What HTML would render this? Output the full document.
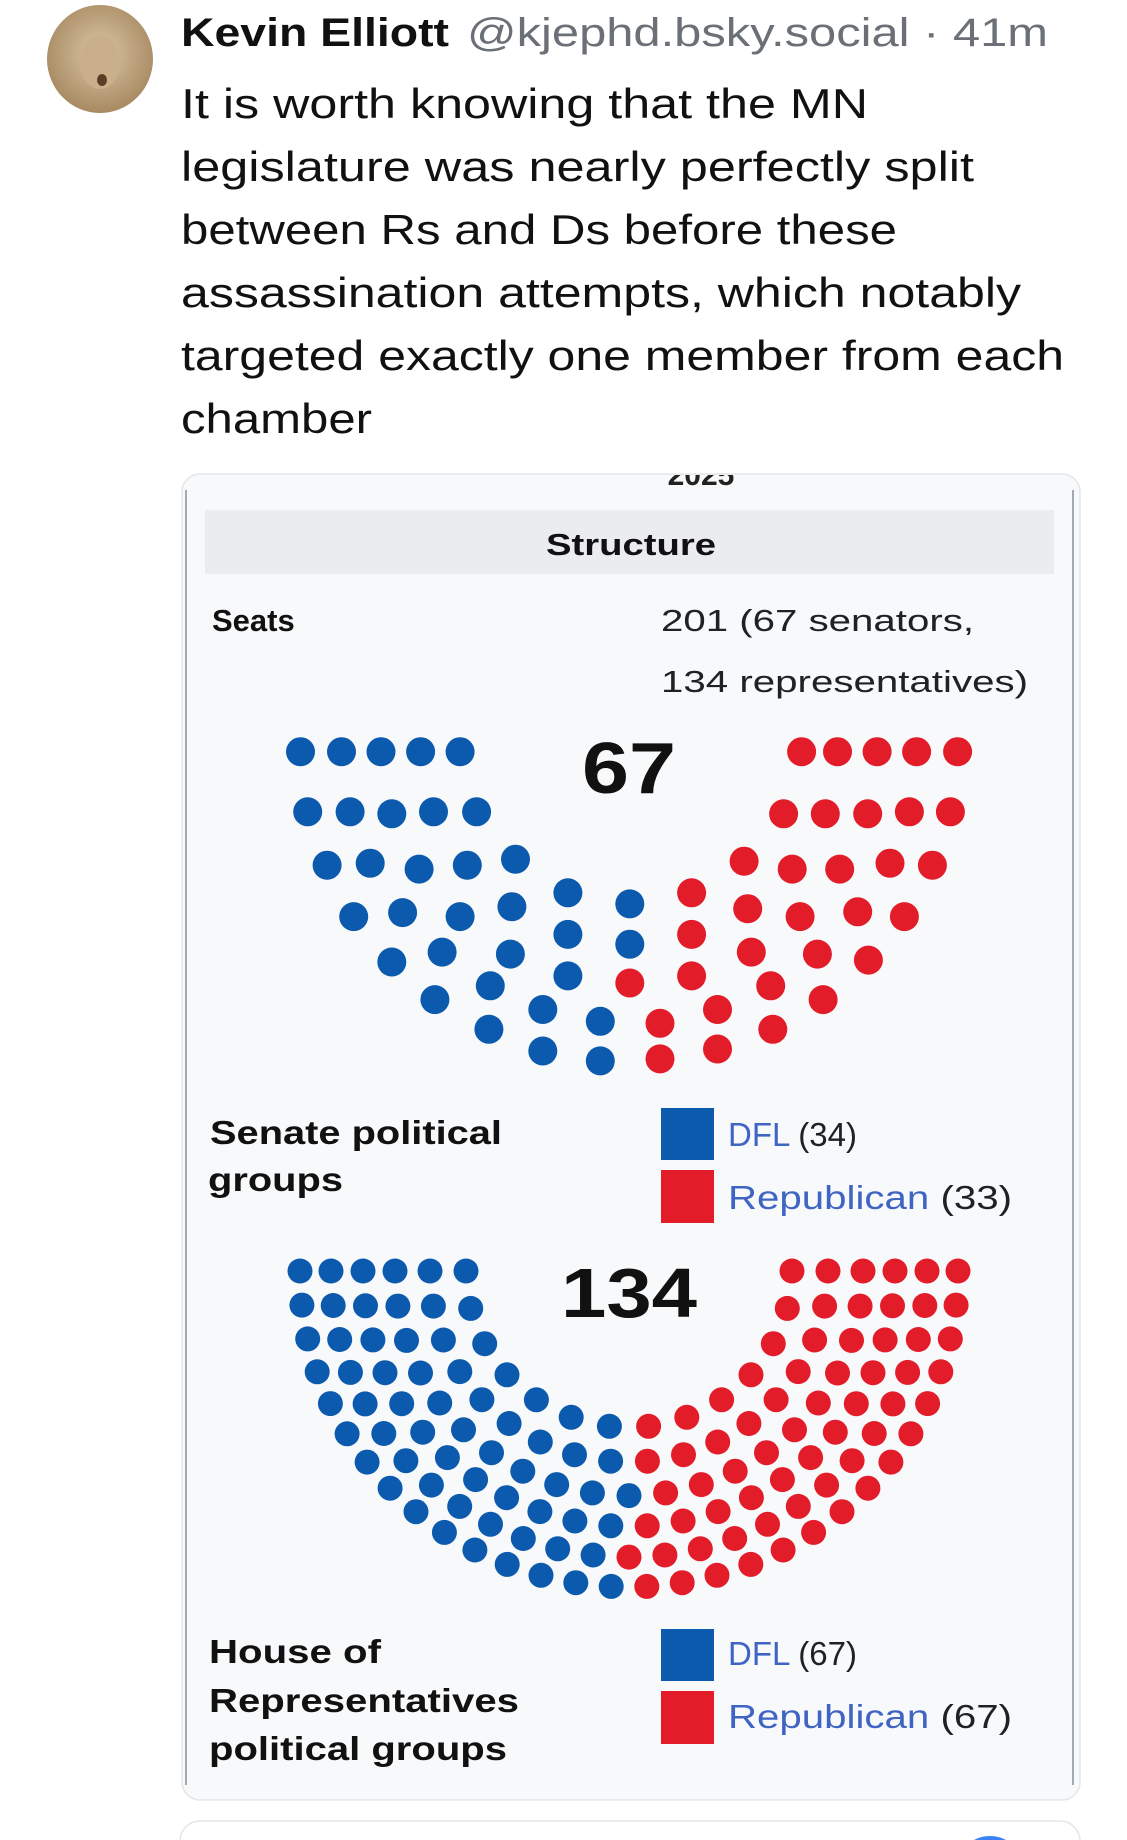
<!DOCTYPE html>
<html><head><meta charset="utf-8"><style>
html,body{margin:0;padding:0;background:#fff;width:1127px;height:1840px;overflow:hidden}
svg{display:block}
text{font-family:"Liberation Sans",sans-serif}
</style></head><body>
<svg id="s" width="1127" height="1840" viewBox="0 0 1127 1840" xmlns="http://www.w3.org/2000/svg">
<defs><radialGradient id="av" cx="50%" cy="45%" r="55%"><stop offset="0" stop-color="#d9c7a6"/><stop offset="1" stop-color="#a88a62"/></radialGradient>
<clipPath id="cc"><rect x="182" y="475" width="898" height="1326" rx="18"/></clipPath></defs>
<ellipse cx="100" cy="59" rx="53" ry="54" fill="url(#av)"/>
<ellipse cx="100" cy="62" rx="20" ry="27" fill="#c9b08a"/>
<ellipse cx="102" cy="80" rx="5" ry="6" fill="#5a3f25"/>
<text x="181" y="46" font-size="40" font-weight="bold" fill="#111" textLength="268" lengthAdjust="spacingAndGlyphs">Kevin Elliott</text>
<text x="467" y="46" font-size="40" fill="#6b7077" textLength="581" lengthAdjust="spacingAndGlyphs">@kjephd.bsky.social · 41m</text>
<g font-size="42" fill="#111">
<text x="181" y="118" textLength="687" lengthAdjust="spacingAndGlyphs">It is worth knowing that the MN</text>
<text x="181" y="181" textLength="793" lengthAdjust="spacingAndGlyphs">legislature was nearly perfectly split</text>
<text x="181" y="244" textLength="716" lengthAdjust="spacingAndGlyphs">between Rs and Ds before these</text>
<text x="181" y="307" textLength="840" lengthAdjust="spacingAndGlyphs">assassination attempts, which notably</text>
<text x="181" y="370" textLength="883" lengthAdjust="spacingAndGlyphs">targeted exactly one member from each</text>
<text x="181" y="433" textLength="191" lengthAdjust="spacingAndGlyphs">chamber</text>
</g>
<rect x="182" y="474" width="898" height="1326" rx="18" fill="#f8f9fa" stroke="#e3e5e8" stroke-width="1.5"/>
<line x1="186" y1="490" x2="186" y2="1785" stroke="#a2a9b1" stroke-width="2"/>
<line x1="1073" y1="490" x2="1073" y2="1785" stroke="#a2a9b1" stroke-width="2"/>
<g clip-path="url(#cc)"><text x="701" y="485" font-size="30" font-weight="bold" fill="#222" text-anchor="middle">2025</text></g>
<rect x="205" y="510" width="849" height="64" fill="#eaecf0"/>
<text x="631" y="555" font-size="31" font-weight="bold" fill="#111" text-anchor="middle" textLength="170" lengthAdjust="spacingAndGlyphs">Structure</text>
<text x="212" y="631" font-size="31" font-weight="bold" fill="#111">Seats</text>
<g font-size="31" fill="#202122">
<text x="661" y="631" textLength="313" lengthAdjust="spacingAndGlyphs">201 (67 senators,</text>
<text x="661" y="692" textLength="367" lengthAdjust="spacingAndGlyphs">134 representatives)</text>
</g>
<text x="629" y="793" font-size="72" font-weight="bold" fill="#111" text-anchor="middle" textLength="94" lengthAdjust="spacingAndGlyphs">67</text>
<g id="sen"></g>
<g font-size="33" font-weight="bold" fill="#111">
<text x="210" y="1144" textLength="292" lengthAdjust="spacingAndGlyphs">Senate political</text>
<text x="208" y="1191" textLength="135" lengthAdjust="spacingAndGlyphs">groups</text>
</g>
<rect x="661" y="1108" width="53" height="52" fill="#0c5aad"/>
<rect x="661" y="1170" width="53" height="53" fill="#e31c2a"/>
<g font-size="33">
<text x="728" y="1146"><tspan fill="#3f64c4">DFL</tspan><tspan fill="#202122"> (34)</tspan></text>
<text x="728" y="1209" textLength="284" lengthAdjust="spacingAndGlyphs"><tspan fill="#3f64c4">Republican</tspan><tspan fill="#202122"> (33)</tspan></text>
</g>
<text x="629" y="1317" font-size="70" font-weight="bold" fill="#111" text-anchor="middle" textLength="136" lengthAdjust="spacingAndGlyphs">134</text>
<g id="hou"></g>
<g font-size="33" font-weight="bold" fill="#111">
<text x="209" y="1663" textLength="172" lengthAdjust="spacingAndGlyphs">House of</text>
<text x="209" y="1712" textLength="310" lengthAdjust="spacingAndGlyphs">Representatives</text>
<text x="209" y="1760" textLength="298" lengthAdjust="spacingAndGlyphs">political groups</text>
</g>
<rect x="661" y="1629" width="53" height="52" fill="#0c5aad"/>
<rect x="661" y="1691" width="53" height="53" fill="#e31c2a"/>
<g font-size="33">
<text x="728" y="1665"><tspan fill="#3f64c4">DFL</tspan><tspan fill="#202122"> (67)</tspan></text>
<text x="728" y="1728" textLength="284" lengthAdjust="spacingAndGlyphs"><tspan fill="#3f64c4">Republican</tspan><tspan fill="#202122"> (67)</tspan></text>
</g>
<rect x="180" y="1821" width="900" height="60" rx="20" fill="#fff" stroke="#e3e5e8" stroke-width="1.5"/>
<circle cx="990" cy="1870" r="34" fill="#3b82f6"/>
</svg>
<script>
var NS="http://www.w3.org/2000/svg",B="#0c5aad",R="#e31c2a";
function dot(g,x,y,r,c){var e=document.createElementNS(NS,"circle");e.setAttribute("cx",x.toFixed(1));e.setAttribute("cy",y.toFixed(1));e.setAttribute("r",r);e.setAttribute("fill",c);g.appendChild(e);}
var blue=[[418,333],[475,333],[530,333],[585,333],[640,333],[428,485],[487,485],[545,490],[603,485],[663,485],[455,620],[515,615],[583,630],[650,620],[717,605],[492,750],[560,740],[640,750],[712,725],[790,690],[876,718],[545,865],[615,840],[710,845],[790,795],[876,820],[605,960],[682,925],[790,900],[680,1035],[755,985],[835,1015],[755,1090],[835,1115]];
var red=[[1115,333],[1165,333],[1220,333],[1275,333],[1332,333],[1090,490],[1148,490],[1207,490],[1265,485],[1322,485],[1035,610],[1102,630],[1168,630],[1238,615],[1297,620],[962,690],[1040,730],[1113,750],[1193,738],[1258,750],[962,795],[1045,840],[1137,845],[1208,860],[876,918],[962,900],[1072,925],[1145,960],[918,1020],[998,985],[1075,1035],[918,1110],[998,1085]];
var sg=document.getElementById("sen");
blue.forEach(function(p){dot(sg,p[0]/1.391,p[1]/2.529+620,14.5,B)});
red.forEach(function(p){dot(sg,p[0]/1.391,p[1]/2.529+620,14.5,R)});
var hg=document.getElementById("hou"),radii=[329,298,266,234,199,163],counts=[30,27,24,21,18,14],seats=[];
for(var i=0;i<6;i++){for(var j=0;j<counts[i];j++){var a=Math.PI*j/(counts[i]-1);seats.push({a:a,r:radii[i]});}}
seats.sort(function(p,q){return p.a-q.a||q.r-p.r});
seats.forEach(function(s,k){var x=629-s.r*Math.cos(s.a),y=1271+s.r*0.96*Math.sin(s.a);dot(hg,x,y,12.5,k<67?B:R)});
</script>
</body></html>
